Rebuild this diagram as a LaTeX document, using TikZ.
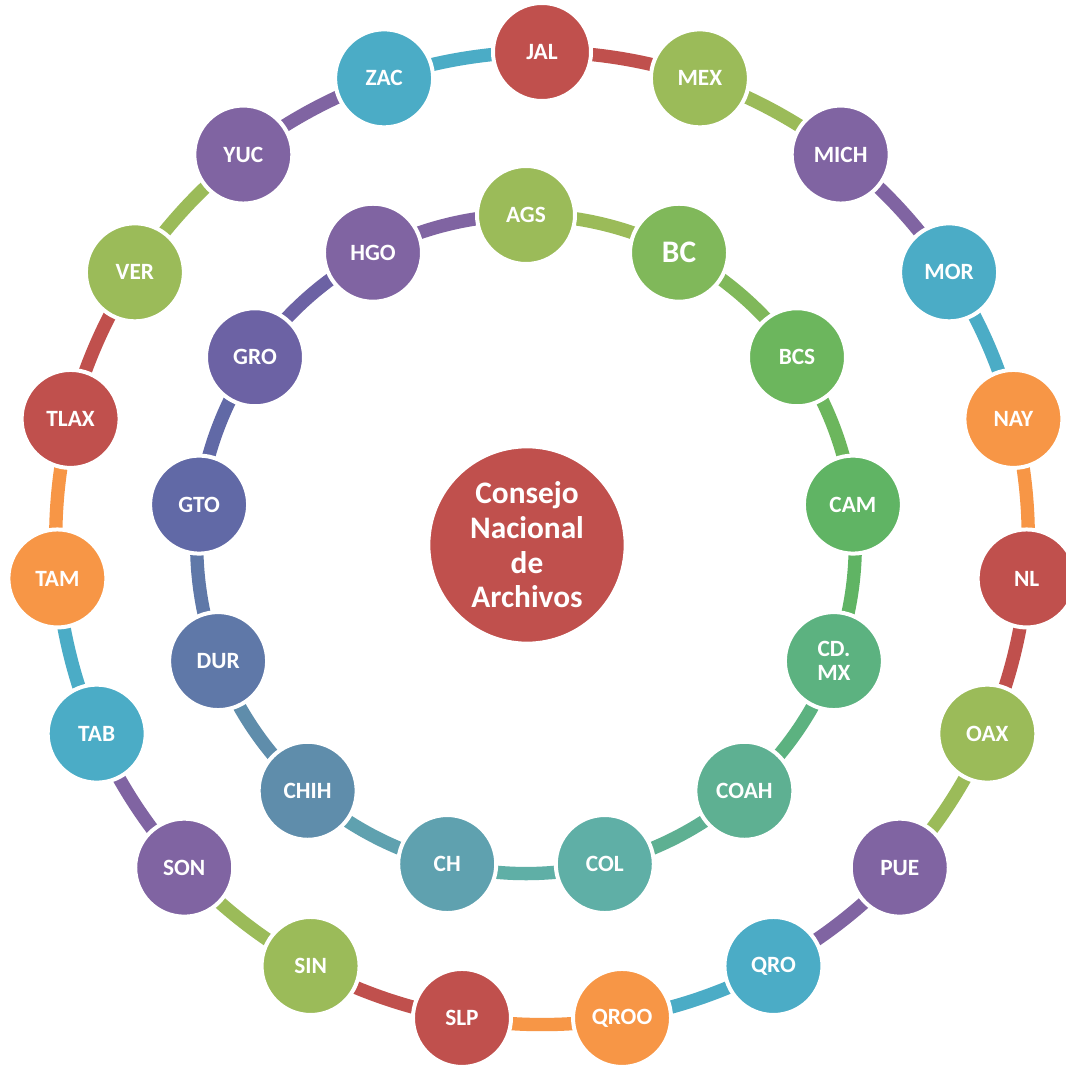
\documentclass[tikz,border=0pt]{standalone}
\usepackage{fontspec}
\setmainfont{Carlito}
\usetikzlibrary{calc}
\definecolor{ored}{HTML}{C0504D}
\definecolor{ogreen}{HTML}{9BBB59}
\definecolor{opurple}{HTML}{8064A2}
\definecolor{oaqua}{HTML}{4BACC6}
\definecolor{oorange}{HTML}{F79646}
\definecolor{ic0}{HTML}{9BBB59}
\definecolor{ic1}{HTML}{80B85A}
\definecolor{ic2}{HTML}{6CB65D}
\definecolor{ic3}{HTML}{60B464}
\definecolor{ic4}{HTML}{5CB280}
\definecolor{ic5}{HTML}{5EB092}
\definecolor{ic6}{HTML}{5FAFA6}
\definecolor{ic7}{HTML}{5FA1AF}
\definecolor{ic8}{HTML}{5F8DAB}
\definecolor{ic9}{HTML}{5F78A8}
\definecolor{ic10}{HTML}{6169A6}
\definecolor{ic11}{HTML}{6C62A4}
\definecolor{ic12}{HTML}{8064A2}
\pgfdeclarelayer{back}
\pgfdeclarelayer{bg}
\pgfsetlayers{back,bg,main}
\begin{document}
\begin{tikzpicture}[x=0.75pt,y=0.75pt,
  ball/.style={circle, draw=white, line width=3pt, minimum size=73.5pt, inner sep=0pt,
    text=white, font=\bfseries\fontsize{17.5}{18}\selectfont, align=center},
  conn/.style={line width=10pt}]
\begin{pgfonlayer}{back}
\fill[white] (0,0) rectangle (1066,1065);
\end{pgfonlayer}
\useasboundingbox (0,0) rectangle (1066,1065);
\coordinate (oc) at (542,526.7);
\coordinate (ic) at (526,520.7);
% outer ring
\foreach \t/\c [count=\k from 0] in {JAL/ored,MEX/ogreen,MICH/opurple,MOR/oaqua,NAY/oorange,
  NL/ored,OAX/ogreen,PUE/opurple,QRO/oaqua,QROO/oorange,
  SLP/ored,SIN/ogreen,SON/opurple,TAB/oaqua,TAM/oorange,
  TLAX/ored,VER/ogreen,YUC/opurple,ZAC/oaqua} {
  \pgfmathsetmacro\a{90-\k*360/19}
  \node[ball, fill=\c] (o\k) at ($(oc)+(\a:486.3)$) {\t};
}
% inner ring
\foreach \t [count=\k from 0] in {AGS,{\fontsize{23.5}{24}\selectfont BC},BCS,CAM,{CD.\\MX},COAH,COL,CH,CHIH,DUR,GTO,GRO,HGO} {
  \pgfmathsetmacro\a{90-\k*360/13}
  \node[ball, fill=ic\k] (i\k) at ($(ic)+(\a:329.3)$) {\t};
}
% center
\node[circle, fill=ored, draw=white, line width=2pt, minimum size=147pt, inner sep=0pt,
  text=white, font=\bfseries\fontsize{23.5}{26}\selectfont, align=center]
  (cna) at (527,520) {Consejo\\Nacional\\de\\Archivos};
% connectors
\begin{pgfonlayer}{bg}
\foreach \k/\c in {0/ored,1/ogreen,2/opurple,3/oaqua,4/oorange,5/ored,6/ogreen,7/opurple,
  8/oaqua,9/oorange,10/ored,11/ogreen,12/opurple,13/oaqua,14/oorange,15/ored,16/ogreen,
  17/opurple,18/oaqua} {
  \pgfmathsetmacro\a{90-\k*360/19}
  \pgfmathsetmacro\b{90-(\k+1)*360/19}
  \draw[conn, \c] (o\k.center) arc[start angle=\a, end angle=\b, radius=364.725pt];
}
\foreach \k in {0,...,12} {
  \pgfmathsetmacro\a{90-\k*360/13}
  \pgfmathsetmacro\b{90-(\k+1)*360/13}
  \draw[conn, ic\k] (i\k.center) arc[start angle=\a, end angle=\b, radius=246.975pt];
}
\end{pgfonlayer}
\end{tikzpicture}
\end{document}
